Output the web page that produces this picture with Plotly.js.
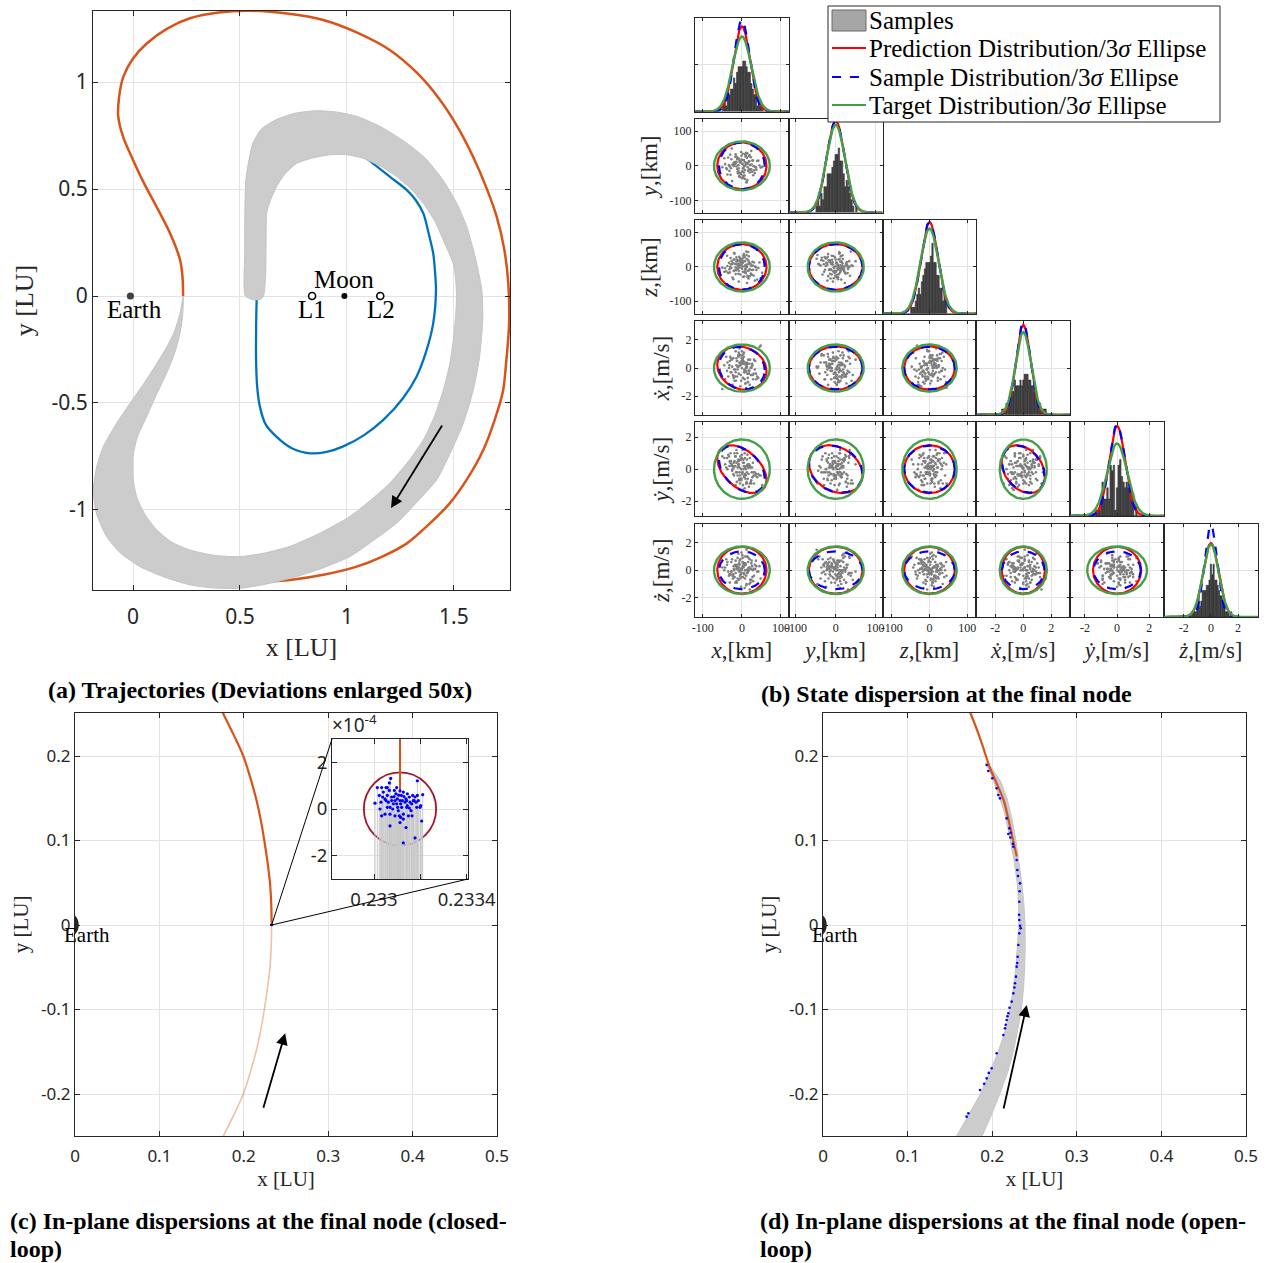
<!DOCTYPE html>
<html><head><meta charset="utf-8">
<script src="https://cdn.plot.ly/plotly-3.0.1.min.js"></script>
<style>html,body{margin:0;padding:0;background:#fff}#chart{width:1270px;height:1263px}</style>
</head><body><div id="chart"></div>
<script>
// ================= DATA =================
// ---- Panel (a): trajectories [LU] ----
const refTrajX = [0.234,0.232,0.22,0.17,0.11,0.05,0.0,-0.045,-0.069,-0.065,-0.045,0.0,0.064,0.16,0.266,0.4,0.547,0.72,0.889,1.05,1.2,1.33,1.435,1.52,1.59,1.65,1.70,1.735,1.754,1.758,1.745,1.73,1.69,1.637,1.565,1.48,1.38,1.28,1.16,1.045,0.89,0.734,0.6,0.45];
const refTrajY = [0.0,0.08,0.168,0.3,0.417,0.53,0.636,0.74,0.838,0.93,1.025,1.11,1.18,1.25,1.298,1.325,1.333,1.32,1.29,1.23,1.15,1.04,0.916,0.785,0.65,0.51,0.37,0.22,0.06,-0.128,-0.3,-0.44,-0.58,-0.72,-0.85,-0.969,-1.07,-1.156,-1.22,-1.265,-1.303,-1.327,-1.336,-1.338];
const initTrajX = [0.575,0.576,0.578,0.576,0.575,0.58,0.593,0.62,0.67,0.74,0.827,0.9,0.983,1.08,1.17,1.26,1.325,1.37,1.403,1.416,1.411,1.403,1.38,1.357,1.32,1.28,1.2,1.092];
const initTrajY = [0.45,0.2,0.0,-0.1,-0.283,-0.42,-0.517,-0.6,-0.657,-0.71,-0.735,-0.73,-0.703,-0.65,-0.579,-0.48,-0.377,-0.26,-0.128,0.028,0.12,0.2,0.3,0.386,0.45,0.495,0.558,0.643];
// Monte-Carlo bundle envelope (outer edge, then inner edge back)
const bundleOuterX = [0.57,0.525,0.522,0.523,0.528,0.56,0.60,0.67,0.76,0.858,0.95,1.045,1.16,1.28,1.37,1.45,1.52,1.56,1.60,1.63,1.635,1.62,1.59,1.544,1.48,1.419,1.33,1.232,1.12,1.014,0.89,0.765,0.63,0.5,0.38,0.266,0.15,0.033,-0.06,-0.123,-0.17,-0.186,-0.17,-0.139,-0.08,-0.014,0.05,0.111,0.16,0.196,0.22,0.232,0.233];
const bundleOuterY = [-0.02,0.0,0.2,0.4,0.55,0.714,0.78,0.825,0.855,0.866,0.86,0.84,0.79,0.714,0.64,0.54,0.42,0.324,0.18,0.03,-0.1,-0.283,-0.44,-0.595,-0.74,-0.86,-0.96,-1.062,-1.145,-1.218,-1.27,-1.311,-1.345,-1.366,-1.365,-1.35,-1.315,-1.265,-1.2,-1.125,-1.02,-0.907,-0.8,-0.704,-0.6,-0.501,-0.41,-0.315,-0.235,-0.159,-0.08,-0.01,0.0];
const bundleInnerX = [0.235,0.232,0.22,0.195,0.157,0.11,0.064,0.02,0.0,0.0,0.017,0.055,0.111,0.18,0.266,0.38,0.5,0.62,0.734,0.87,1.014,1.11,1.2,1.285,1.357,1.41,1.45,1.48,1.497,1.508,1.512,1.5,1.45,1.41,1.357,1.30,1.232,1.16,1.076,1.0,0.92,0.84,0.765,0.71,0.67,0.64,0.625,0.622,0.62,0.61,0.59];
const bundleInnerY = [0.0,-0.09,-0.174,-0.265,-0.361,-0.46,-0.563,-0.66,-0.75,-0.85,-0.938,-1.02,-1.093,-1.15,-1.187,-1.212,-1.218,-1.2,-1.17,-1.11,-1.03,-0.955,-0.875,-0.775,-0.673,-0.56,-0.44,-0.32,-0.206,-0.09,0.012,0.14,0.262,0.35,0.433,0.50,0.558,0.605,0.643,0.66,0.66,0.645,0.62,0.57,0.51,0.44,0.388,0.25,0.1,0.0,-0.02];
const earthX = -0.01215, moonX = 0.98785, L1X = 0.83692, L2X = 1.15568, earthR = 0.01659;
const arrowA = {tailX:1.449, tailY:-0.598, headX:1.206, headY:-0.991};

// ---- Panel (b): final-node samples (x,y,z in km; vx,vy,vz in m/s) ----
const sampX = [3,-12,25,-7,18,-31,9,0,-22,14,-5,37,-16,6,-2,28,-40,11,-9,21,
 -27,4,15,-14,33,-1,-19,8,45,-35,12,-6,19,-24,2,-11,30,-3,7,-45,
 16,-17,24,-8,1,-29,10,52,-13,5,-21,27,-4,13,-38,20,-10,3,-26,36,
 -15,8,-1,17,-33,23,-7,11,-50,14,2,-20,29,-9,6,-12,39,-25,0,18,
 -4,9,-30,22,-16,4,42,-6,13,-23,26,-2,-14,7,-37,15,31,-11,1,-19,
 10,-28,20,-5,34,-8,12,-43,5,24,-17,3,-9,16,-32,8,48,-3,19,-21];
const sampY = [-8,21,4,-30,13,-2,27,-17,6,-41,10,-11,33,0,-24,16,-6,38,-14,2,
 19,-35,-4,11,-21,29,7,-12,1,24,-46,14,-9,3,35,-18,-1,12,-28,22,
 -15,5,43,-7,17,-26,9,-3,26,-19,0,15,-33,8,-10,31,-22,4,50,-5,
 12,-38,18,-13,2,25,-20,6,-4,36,-16,10,-27,20,-1,-9,14,-44,7,28,
 -23,1,32,-11,8,-6,15,-31,23,3,-17,40,-2,11,-25,6,-13,19,-36,9,
 30,-7,-19,13,-3,21,-48,5,17,-10,26,-29,2,9,-15,34,-5,-21,14,0];
const sampZ = [14,-5,-23,8,31,-16,2,19,-36,7,24,-9,-1,-28,12,4,-13,45,-20,10,
 -3,27,-11,16,-40,6,22,-7,13,-18,35,-2,9,-31,1,18,-25,5,29,-14,
 20,-8,3,-43,11,26,-4,-17,7,38,-12,15,-22,0,33,-6,10,-29,17,-1,
 -10,4,23,-34,12,-19,30,6,-2,-26,15,41,-8,2,-15,21,-37,9,-5,14,
 25,-13,0,8,-21,32,-3,18,-47,11,-9,5,28,-16,3,-30,13,-6,20,39,
 -18,7,-27,16,1,-11,24,-4,34,-22,9,-14,2,44,-7,17,-33,6,-10,22];
const sampVX = [0.3,-0.6,0.1,0.9,-0.2,0.5,-1.1,0.0,0.7,-0.4,0.2,-0.8,1.2,-0.1,0.4,-0.5,0.8,-1.4,0.1,0.6,
 -0.3,1.0,-0.7,0.2,-0.1,0.5,-0.9,0.3,1.5,-0.6,0.0,0.4,-0.2,-1.2,0.7,0.1,-0.4,0.9,-0.8,0.2,
 0.6,-0.1,-0.5,1.1,0.3,-0.3,0.0,-1.0,0.5,0.8,-0.6,0.2,-1.3,0.4,-0.2,1.3,0.1,-0.7,0.6,-0.4,
 -0.9,0.4,0.7,-0.2,0.0,-0.5,1.0,0.2,-1.5,0.3,0.6,-0.1,-0.8,0.9,-0.3,0.5,-0.6,0.1,1.2,-0.4,
 0.2,-1.1,0.8,0.0,-0.3,0.5,-0.7,1.4,0.1,-0.5,0.3,-0.9,0.7,-0.2,0.4,-1.0,0.6,-0.1,0.9,-0.6,
 -0.2,0.7,-1.2,0.3,0.5,-0.4,0.1,-0.8,1.1,0.0,-0.6,0.4,0.8,-1.0,0.2,-0.3,1.6,-0.5,0.3,-0.7];
const sampVY = [0.4,-0.2,-0.2,-0.6,0.3,0.5,-0.3,0.9,-0.3,0.2,-0.9,-0.3,0.8,-0.5,0.0,0.4,0.1,-0.9,0.3,0.2,
 0.2,0.6,-0.6,1.2,-0.2,-0.6,0.5,-0.3,-0.4,0.9,-0.9,0.1,0.2,0.0,1.2,-0.4,-0.4,0.6,-1.2,0.7,
 0.1,0.2,-0.9,0.3,-0.3,1.0,0.0,-1.0,-0.8,0.4,0.4,-0.5,0.8,-0.2,0.7,-0.9,0.5,-1.3,0.3,-0.3,
 -0.2,0.1,0.6,-0.3,0.8,-0.8,-0.7,0.2,0.8,0.9,-0.2,-0.4,-0.2,0.6,-0.4,1.0,-0.5,-0.1,0.7,-1.1,
 0.6,-0.6,0.4,0.1,-1.0,0.0,-0.3,-0.2,0.6,0.2,0.1,-0.7,0.4,1.0,0.0,0.3,-0.9,0.1,-0.2,1.0,
 -0.4,0.5,0.7,-0.4,-0.4,0.5,-0.8,0.3,0.2,-0.7,0.8,-1.0,0.2,0.3,0.2,0.7,-0.4,-0.6,0.1,0.1];
const sampVZ = [-0.5,0.2,0.7,-0.1,0.0,-0.9,0.4,0.1,-0.3,1.0,-0.6,0.3,-0.2,0.5,-1.2,0.0,0.8,-0.4,0.2,-0.7,
 0.6,-0.2,0.1,-0.8,0.4,1.3,-0.5,0.0,0.3,-0.1,-1.0,0.7,0.2,-0.4,0.9,-0.6,0.1,-0.3,0.5,0.0,
 -0.1,0.4,-0.7,0.2,1.1,-0.3,0.0,0.6,-0.9,0.3,0.1,-0.5,0.8,-0.2,0.4,-1.4,0.2,0.5,-0.1,0.7,
 0.3,-0.6,0.0,0.9,-0.4,0.1,0.5,-1.1,0.2,-0.2,0.6,0.0,-0.8,1.2,-0.3,0.4,-0.1,0.8,-0.5,0.2,
 0.0,0.5,-0.3,-0.9,0.7,0.2,-0.1,0.4,1.0,-0.6,0.3,-0.2,0.1,-1.3,0.6,0.0,-0.4,0.9,0.2,-0.5,
 0.4,-0.1,0.8,-0.4,0.1,-0.7,1.5,0.2,-0.2,0.5,-0.9,0.3,0.0,0.6,-0.3,1.0,-0.6,0.1,-1.0,0.3];
// 1-sigma of the three distributions, same order as the states
const predSigma = [21.0, 22.5, 22.3, 0.515, 0.50, 0.57];
const sampSigma = [19.5, 22.5, 22.3, 0.505, 0.49, 0.46];
const targSigma = [23.8, 23.5, 24.0, 0.56, 0.62, 0.58];
// correlations (state i, state j)
const corrI = [0, 1, 3, 0];
const corrJ = [4, 4, 4, 3];
const corrPred = [-0.45, -0.25, -0.30, -0.15];
const corrSamp = [-0.40, -0.20, -0.30, -0.10];
const stateLabels = ['<i>x</i>,[km]','<i>y</i>,[km]','<i>z</i>,[km]','<i>ẋ</i>,[m/s]','<i>ẏ</i>,[m/s]','<i>ż</i>,[m/s]'];
const stateIsKm = [true,true,true,false,false,false];
const colHalfRange = [120, 118, 124, 3.35, 2.92, 3.45];
const rowHalfRange = [135, 135, 137, 3.33, 2.93, 3.41];
const binWidth = [4, 4, 4, 0.1, 0.1, 0.1];
const kmTicks = [-100, 0, 100], msTicks = [-2, 0, 2];
const legendNames = ['Samples','Prediction Distribution/3<i>σ</i> Ellipse','Sample Distribution/3<i>σ</i> Ellipse','Target Distribution/3<i>σ</i> Ellipse'];

// ---- Panel (c): closed-loop final node ----
const cRefUpX = [0.171,0.1757,0.188,0.1994,0.2075,0.2145,0.2200,0.2243,0.2280,0.2310,0.2325,0.2330];
const cRefUpY = [0.26,0.25,0.225,0.2,0.175,0.15,0.125,0.1,0.075,0.05,0.025,0.0];
const cRefLowX = [0.2330,0.2325,0.2310,0.2280,0.2243,0.2200,0.2145,0.2075,0.1994,0.188,0.1757,0.171];
const cRefLowY = [0.0,-0.025,-0.05,-0.075,-0.1,-0.125,-0.15,-0.175,-0.2,-0.225,-0.25,-0.26];
const arrowC = {tailX:0.2227, tailY:-0.218, headX:0.249, headY:-0.128};
// zoomed final-node samples (x [LU], y [LU])
const cNodeX = [0.2330144,0.2330331,0.2330518,0.2330720,0.2330662,0.2330979,0.2331122,0.2331266,0.2331871,0.2332101,
 0.2330043,0.2330259,0.2330475,0.2330576,0.2330763,0.2330878,0.2331007,0.2331122,0.2331194,0.2331295,
 0.2331410,0.2331525,0.2331626,0.2331727,0.2331842,0.2331986,0.2332058,0.2330230,0.2330374,0.2330619,
 0.2330691,0.2330835,0.2331050,0.2331151,0.2331266,0.2331381,0.2331482,0.2331597,0.2331698,0.2331770,
 0.2330403,0.2330518,0.2330576,0.2330763,0.2330863,0.2330950,0.2331065,0.2331180,0.2331338,0.2331439,
 0.2331554,0.2331669,0.2331813,0.2331914,0.2332015,0.2330691,0.2330907,0.2331094,0.2331266,0.2331410,
 0.2330475,0.2330331,0.2330691,0.2331122,0.2331770,0.2331266,0.2330979,0.2330806,0.2330662,0.2330907,
 0.2331151,0.2331381,0.2331525,0.2331640,0.2331871,0.2330302,0.2330576,0.2331022,0.2331223,0.2331439];
const cNodeY = [0.91e-4,0.91e-4,0.91e-4,1.30e-4,1.11e-4,0.91e-4,0.77e-4,0.72e-4,1.20e-4,0.61e-4,
 0.25e-4,0,0.43e-4,0.58e-4,0.51e-4,0.79e-4,0.43e-4,0.36e-4,0.07e-4,0.53e-4,
 0.36e-4,0.51e-4,0.22e-4,0.36e-4,0.07e-4,0.07e-4,-0.51e-4,0.58e-4,0.51e-4,0.29e-4,
 0.07e-4,0.22e-4,-0.07e-4,-0.36e-4,-0.22e-4,-0.79e-4,-0.29e-4,-0.07e-4,0.36e-4,0.51e-4,
 0.72e-4,0.36e-4,0.07e-4,0.36e-4,0.53e-4,0.65e-4,0.59e-4,0.58e-4,0.29e-4,0.14e-4,
 0.29e-4,0.58e-4,0.29e-4,0.36e-4,0.14e-4,-0.22e-4,-0.29e-4,-0.29e-4,-0.43e-4,0.07e-4,
 -0.22e-4,-0.29e-4,-0.72e-4,-0.58e-4,-1.23e-4,-1.44e-4,0.22e-4,0,0.79e-4,0.36e-4,
 0.22e-4,0.43e-4,0.04e-4,-0.29e-4,0.58e-4,0.29e-4,0.91e-4,0.07e-4,0.36e-4,0.65e-4];
const cRefEndX = [0.2331122, 0.2331122];
const cRefEndY = [4e-4, 0.77e-4];
const cTargetCenter = [0.2331122, 0.0], cTargetRadius = 1.56e-4;

// ---- Panel (d): open-loop final node ----
const dRefX = [0.170,0.1746,0.186,0.197,0.2055,0.2134,0.2185,0.223,0.229];
const dRefY = [0.26,0.25,0.22,0.187,0.167,0.148,0.128,0.108,0.081];
const dBandLeftX = [0.192,0.2,0.207,0.214,0.2185,0.2215,0.226,0.2295,0.2312,0.2315,0.230,0.228,0.225,0.221,0.2155,0.207,0.197,0.186,0.172,0.158,0.152];
const dBandLeftY = [0.192,0.175,0.155,0.135,0.115,0.1,0.075,0.05,0.025,0,-0.025,-0.05,-0.075,-0.1,-0.125,-0.15,-0.175,-0.2,-0.225,-0.25,-0.26];
const dBandRightX = [0.184,0.188,0.199,0.209,0.218,0.225,0.230,0.2345,0.237,0.2385,0.239,0.2388,0.2375,0.235,0.2315,0.228,0.2235,0.2175,0.210,0.200,0.194];
const dBandRightY = [-0.26,-0.25,-0.225,-0.2,-0.175,-0.15,-0.125,-0.1,-0.075,-0.05,-0.025,0,0.025,0.05,0.075,0.1,0.125,0.15,0.17,0.185,0.192];
const dNodeX = [0.1935,0.1954,0.2001,0.2053,0.2072,0.2092,0.2171,0.2202,0.2218,0.2190,0.2250,0.2289,0.2297,0.2329,0.2320,0.2320,0.2337,0.2320,0.2309,0.2301,
 0.2289,0.2281,0.2270,0.2250,0.2230,0.2191,0.2171,0.2151,0.2132,0.2053,0.1994,0.1935,0.1856,0.1718,0.1698,0.2215,0.2245,0.2305,0.2325,0.2330,
 0.2318,0.2296,0.2262,0.2180,0.2160,0.2205,0.1960,0.1905];
const dNodeY = [0.1893,0.1822,0.1736,0.1618,0.1538,0.1499,0.1262,0.1144,0.1092,0.1077,0.0927,0.0769,0.0651,0.0493,0.0276,0.0059,-0.0039,-0.0099,-0.0237,-0.0375,
 -0.0493,-0.0611,-0.0690,-0.0809,-0.0907,-0.1045,-0.1124,-0.1223,-0.1302,-0.1518,-0.1696,-0.1815,-0.1953,-0.2229,-0.2268,0.1035,0.0960,0.058,0.040,-0.001,
 0.012,-0.045,-0.074,-0.108,-0.118,-0.098,-0.175,-0.188];
const arrowD = {tailX:0.2131, tailY:-0.219, headX:0.2408, headY:-0.0947};

// ================= FIGURE =================
const W = 1270, H = 1263;
const fx = px => px / W;
const fy = py => 1 - py / H;
const SERIF = 'Liberation Serif, Times New Roman, serif';
const SANS = 'Noto Sans, Open Sans, DejaVu Sans, sans-serif';
const TXT = '#262626', GRID = '#e3e3e3';
const ORANGE = '#d95319', TRAJBLUE = '#0072bd', BUNDLE = '#cccccc';
const RED = '#ff0000', BLUE = '#0000ff', GREEN = '#43a047';

const layout = {
  width: W, height: H, margin: {l:0, r:0, t:0, b:0},
  paper_bgcolor: '#fff', plot_bgcolor: '#fff', showlegend: false,
  shapes: [], annotations: []
};
const data = [];
let nAx = 0;
function baseAxis() {
  return {showline: true, linecolor: TXT, linewidth: 1, mirror: 'ticks', ticks: 'inside', ticklen: 5,
    tickwidth: 1, tickcolor: TXT, showgrid: true, gridcolor: GRID, gridwidth: 1, zeroline: false,
    fixedrange: true, automargin: false, tickfont: {family: SANS, size: 17, color: TXT}};
}
function newAxes(xPx, yPx, xo, yo) {
  nAx++;
  const s = nAx === 1 ? '' : String(nAx);
  layout['xaxis' + s] = Object.assign(baseAxis(), {domain: [fx(xPx[0]), fx(xPx[1])], anchor: 'y' + s}, xo);
  layout['yaxis' + s] = Object.assign(baseAxis(), {domain: [fy(yPx[1]), fy(yPx[0])], anchor: 'x' + s}, yo);
  return {xaxis: 'x' + s, yaxis: 'y' + s, xk: 'xaxis' + s, yk: 'yaxis' + s};
}
function axTitle(text, size, standoff) { return {text: text, font: {family: SERIF, size: size, color: TXT}, standoff: standoff}; }
function arrow(ax, a) {
  layout.annotations.push({xref: ax.xaxis, yref: ax.yaxis, axref: ax.xaxis, ayref: ax.yaxis,
    x: a.headX, y: a.headY, ax: a.tailX, ay: a.tailY, text: '', showarrow: true,
    arrowhead: 2, arrowsize: 1.3, arrowwidth: 1.8, arrowcolor: '#000'});
}
function earthShape(ax, color) {
  layout.shapes.push({type: 'circle', xref: ax.xaxis, yref: ax.yaxis, layer: 'above',
    x0: earthX - earthR, x1: earthX + earthR, y0: -earthR, y1: earthR,
    fillcolor: color, line: {width: 0}});
}
function label(ax, x, y, text, size) {
  layout.annotations.push({xref: ax.xaxis, yref: ax.yaxis, x: x, y: y, text: text, showarrow: false,
    font: {family: SERIF, size: size, color: '#000'}, xanchor: 'center', yanchor: 'middle'});
}

// ---------- (a) ----------
const A = newAxes([93, 510], [11, 590],
  {range: [-0.187, 1.762], tickvals: [0, 0.5, 1, 1.5], ticktext: ['0', '0.5', '1', '1.5'], ticklabelstandoff: 8,
   tickfont: {family: SANS, size: 21, color: TXT}, title: axTitle('x [LU]', 26, 8)},
  {range: [-1.374, 1.332], tickvals: [-1, -0.5, 0, 0.5, 1], ticktext: ['-1', '-0.5', '0', '0.5', '1'],
   tickfont: {family: SANS, size: 21, color: TXT}, title: axTitle('y [LU]', 26, 10)});
data.push({x: refTrajX, y: refTrajY, mode: 'lines', line: {color: ORANGE, width: 2.5, shape: 'spline', smoothing: 0.8}, xaxis: A.xaxis, yaxis: A.yaxis, hoverinfo: 'skip'});
data.push({x: initTrajX, y: initTrajY, mode: 'lines', line: {color: TRAJBLUE, width: 2.3, shape: 'spline', smoothing: 0.8}, xaxis: A.xaxis, yaxis: A.yaxis, hoverinfo: 'skip'});
data.push({x: bundleOuterX.concat(bundleInnerX), y: bundleOuterY.concat(bundleInnerY), mode: 'lines', fill: 'toself',
  fillcolor: BUNDLE, line: {color: '#c4c4c4', width: 1, shape: 'spline', smoothing: 0.6}, xaxis: A.xaxis, yaxis: A.yaxis, hoverinfo: 'skip'});
data.push({x: [moonX], y: [0], mode: 'markers', marker: {color: '#000', size: 6}, xaxis: A.xaxis, yaxis: A.yaxis, hoverinfo: 'skip'});
data.push({x: [L1X, L2X], y: [0, 0], mode: 'markers', marker: {color: '#fff', size: 7, line: {color: '#000', width: 1.6}}, xaxis: A.xaxis, yaxis: A.yaxis, hoverinfo: 'skip'});
earthShape(A, '#404040');
label(A, earthX + 0.02, -0.062, 'Earth', 25);
label(A, moonX, 0.078, 'Moon', 25);
label(A, L1X, -0.062, 'L1', 25);
label(A, L2X + 0.004, -0.062, 'L2', 25);
arrow(A, arrowA);

// ---------- (b) corner plot ----------
const samples = [sampX, sampY, sampZ, sampVX, sampVY, sampVZ];
const N = sampX.length;
const histScale = 0.6;
const cornerFont = {family: SERIF, size: 12, color: TXT};
const cellX0 = 695, cellW = 93.8, cellY0 = 18, cellStep = 101.1, cellH = 93.5;
function corr(list, i, j) {
  for (let k = 0; k < corrI.length; k++) {
    if ((corrI[k] === i && corrJ[k] === j) || (corrI[k] === j && corrJ[k] === i)) return list[k];
  }
  return 0;
}
function ellipse3(sx, sy, rho) {
  const xs = [], ys = [];
  for (let k = 0; k <= 120; k++) {
    const t = 2 * Math.PI * k / 120, u = Math.cos(t), v = Math.sin(t);
    xs.push(3 * sx * u);
    ys.push(3 * sy * (rho * u + Math.sqrt(1 - rho * rho) * v));
  }
  return {xs, ys};
}
function gauss(sigma, half) {
  const xs = [], ys = [];
  for (let k = 0; k <= 200; k++) {
    const x = -half + 2 * half * k / 200;
    xs.push(x); ys.push(Math.exp(-0.5 * (x / sigma) * (x / sigma)) / (sigma * Math.sqrt(2 * Math.PI)));
  }
  return {xs, ys};
}
const tickSet = i => stateIsKm[i] ? {tickvals: kmTicks, ticktext: kmTicks.map(String)} : {tickvals: msTicks, ticktext: msTicks.map(String)};
for (let r = 0; r < 6; r++) {
  for (let c = 0; c <= r; c++) {
    const xPx = [cellX0 + c * cellW, cellX0 + (c + 1) * cellW];
    const yPx = [cellY0 + r * cellStep, cellY0 + r * cellStep + cellH];
    const xo = Object.assign({range: [-colHalfRange[c], colHalfRange[c]], showticklabels: r === 5, tickfont: cornerFont, ticklen: 3}, tickSet(c));
    if (r === 5) xo.title = axTitle(stateLabels[c], 23, 7);
    let yo;
    if (r === c) {
      const ymax = 1.02 / (Math.min(predSigma[c], sampSigma[c], targSigma[c]) * Math.sqrt(2 * Math.PI));
      yo = {range: [0, ymax], tickvals: [ymax / 2], showticklabels: false, ticklen: 3};
    } else {
      yo = Object.assign({range: [-rowHalfRange[r], rowHalfRange[r]], showticklabels: c === 0, tickfont: cornerFont, ticklen: 3}, tickSet(r));
      if (c === 0) yo.title = axTitle(stateLabels[r], 23, 5);
    }
    const ax = newAxes(xPx, yPx, xo, yo);
    if (r === c) {
      const bw = binWidth[c], half = colHalfRange[c];
      const nHalf = Math.ceil(half / bw);
      const centers = [], counts = [];
      for (let k = -nHalf; k <= nHalf; k++) { centers.push(k * bw); counts.push(0); }
      samples[c].forEach(v => { const k = Math.round(v / bw) + nHalf; if (k >= 0 && k < counts.length) counts[k]++; });
      data.push({type: 'bar', x: centers, y: counts.map(n => n / (N * bw) * histScale), width: bw * 0.92,
        marker: {color: '#4f4f4f', line: {color: '#1c1c1c', width: 0.5}}, xaxis: ax.xaxis, yaxis: ax.yaxis, hoverinfo: 'skip'});
      const gp = gauss(predSigma[c], half), gs = gauss(sampSigma[c], half), gt = gauss(targSigma[c], half);
      data.push({x: gp.xs, y: gp.ys, mode: 'lines', line: {color: RED, width: 2.2}, xaxis: ax.xaxis, yaxis: ax.yaxis, hoverinfo: 'skip'});
      data.push({x: gs.xs, y: gs.ys, mode: 'lines', line: {color: BLUE, width: 2.2, dash: 'dash'}, xaxis: ax.xaxis, yaxis: ax.yaxis, hoverinfo: 'skip'});
      data.push({x: gt.xs, y: gt.ys, mode: 'lines', line: {color: GREEN, width: 2.4}, xaxis: ax.xaxis, yaxis: ax.yaxis, hoverinfo: 'skip'});
    } else {
      data.push({x: samples[c], y: samples[r], mode: 'markers', marker: {size: 2.6, color: '#7f7f7f'},
        xaxis: ax.xaxis, yaxis: ax.yaxis, hoverinfo: 'skip'});
      const ep = ellipse3(predSigma[c], predSigma[r], corr(corrPred, c, r));
      const es = ellipse3(sampSigma[c], sampSigma[r], corr(corrSamp, c, r));
      const et = ellipse3(targSigma[c], targSigma[r], 0);
      data.push({x: ep.xs, y: ep.ys, mode: 'lines', line: {color: RED, width: 2.2}, xaxis: ax.xaxis, yaxis: ax.yaxis, hoverinfo: 'skip'});
      data.push({x: es.xs, y: es.ys, mode: 'lines', line: {color: BLUE, width: 2.2, dash: 'dash'}, xaxis: ax.xaxis, yaxis: ax.yaxis, hoverinfo: 'skip'});
      data.push({x: et.xs, y: et.ys, mode: 'lines', line: {color: GREEN, width: 2.4}, xaxis: ax.xaxis, yaxis: ax.yaxis, hoverinfo: 'skip'});
    }
  }
}
// legend box of (b)
const legendRowsPx = [20, 48, 77, 105];
layout.shapes.push({type: 'rect', xref: 'paper', yref: 'paper', x0: fx(828), x1: fx(1220), y0: fy(122), y1: fy(6),
  fillcolor: '#fff', line: {color: TXT, width: 1}, layer: 'above'});
layout.shapes.push({type: 'rect', xref: 'paper', yref: 'paper', x0: fx(832), x1: fx(866), y0: fy(31), y1: fy(10),
  fillcolor: '#a6a6a6', line: {color: '#6b6b6b', width: 1}, layer: 'above'});
[[RED, 'solid'], [BLUE, 'dash'], [GREEN, 'solid']].forEach((st, k) => {
  layout.shapes.push({type: 'line', xref: 'paper', yref: 'paper', x0: fx(832), x1: fx(866),
    y0: fy(legendRowsPx[k + 1]), y1: fy(legendRowsPx[k + 1]), line: {color: st[0], width: 2.2, dash: st[1]}, layer: 'above'});
});
legendNames.forEach((nm, k) => {
  layout.annotations.push({xref: 'paper', yref: 'paper', x: fx(867), y: fy(legendRowsPx[k]), xanchor: 'left', yanchor: 'middle',
    text: nm, showarrow: false, font: {family: SERIF, size: 25, color: '#000'}});
});

// ---------- (c) ----------
const cTicksX = {range: [0, 0.5], tickvals: [0, 0.1, 0.2, 0.3, 0.4, 0.5], ticktext: ['0', '0.1', '0.2', '0.3', '0.4', '0.5'], ticklabelstandoff: 5};
const cTicksY = {range: [-0.2497, 0.2509], tickvals: [-0.2, -0.1, 0, 0.1, 0.2], ticktext: ['-0.2', '-0.1', '0', '0.1', '0.2']};
const C = newAxes([75, 497], [713, 1136],
  Object.assign({title: axTitle('x [LU]', 21, 4)}, cTicksX),
  Object.assign({title: axTitle('y [LU]', 21, 6)}, cTicksY));
data.push({x: cRefLowX, y: cRefLowY, mode: 'lines', line: {color: 'rgba(217,83,25,0.38)', width: 1.6, shape: 'spline'}, xaxis: C.xaxis, yaxis: C.yaxis, hoverinfo: 'skip'});
data.push({x: cRefUpX, y: cRefUpY, mode: 'lines', line: {color: ORANGE, width: 2.2, shape: 'spline'}, xaxis: C.xaxis, yaxis: C.yaxis, hoverinfo: 'skip'});
data.push({x: cNodeX, y: cNodeY, mode: 'markers', marker: {color: BLUE, size: 2}, xaxis: C.xaxis, yaxis: C.yaxis, hoverinfo: 'skip'});
earthShape(C, '#262626');
label(C, 0.014, -0.012, 'Earth', 21);
arrow(C, arrowC);

// ---------- (d) ----------
const D = newAxes([823, 1246], [713, 1136],
  Object.assign({title: axTitle('x [LU]', 21, 4)}, cTicksX),
  Object.assign({title: axTitle('y [LU]', 21, 6)}, cTicksY));
data.push({x: dBandLeftX.concat(dBandRightX), y: dBandLeftY.concat(dBandRightY), mode: 'lines', fill: 'toself',
  fillcolor: BUNDLE, line: {color: '#c6c6c6', width: 1}, xaxis: D.xaxis, yaxis: D.yaxis, hoverinfo: 'skip'});
data.push({x: dRefX, y: dRefY, mode: 'lines', line: {color: ORANGE, width: 2.2, shape: 'spline'}, xaxis: D.xaxis, yaxis: D.yaxis, hoverinfo: 'skip'});
data.push({x: dNodeX, y: dNodeY, mode: 'markers', marker: {color: BLUE, size: 2.6}, xaxis: D.xaxis, yaxis: D.yaxis, hoverinfo: 'skip'});
earthShape(D, '#262626');
label(D, 0.014, -0.012, 'Earth', 21);
arrow(D, arrowD);

// ---------- inset of (c) ----------
const insetFont = {family: SANS, size: 18.5, color: TXT};
const I = newAxes([332, 468], [739, 879],
  {range: [0.2328188, 0.2334056], tickvals: [0.233, 0.2332, 0.2334], ticktext: ['0.233', '', '0.2334'], tickfont: insetFont, ticklabelstandoff: 4},
  {range: [-2.98e-4, 2.98e-4], tickvals: [-2e-4, 0, 2e-4], ticktext: ['-2', '0', '2'], tickfont: insetFont});
const gx = [], gy = [];
cNodeX.forEach((x, k) => { gx.push(x, x, null); gy.push(-4e-4, cNodeY[k], null); });
data.push({x: gx, y: gy, mode: 'lines', line: {color: '#c8c8c8', width: 1}, xaxis: I.xaxis, yaxis: I.yaxis, hoverinfo: 'skip'});
data.push({x: cRefEndX, y: cRefEndY, mode: 'lines', line: {color: ORANGE, width: 2}, xaxis: I.xaxis, yaxis: I.yaxis, hoverinfo: 'skip'});
data.push({x: cNodeX, y: cNodeY, mode: 'markers', marker: {color: BLUE, size: 3.2}, xaxis: I.xaxis, yaxis: I.yaxis, hoverinfo: 'skip'});
layout.shapes.push({type: 'circle', xref: I.xaxis, yref: I.yaxis, layer: 'between',
  x0: cTargetCenter[0] - cTargetRadius, x1: cTargetCenter[0] + cTargetRadius,
  y0: cTargetCenter[1] - cTargetRadius, y1: cTargetCenter[1] + cTargetRadius,
  line: {color: '#a2142f', width: 1.8}});
layout.annotations.push({xref: 'paper', yref: 'paper', x: fx(330), y: fy(724), xanchor: 'left', yanchor: 'middle',
  text: '×10<sup>-4</sup>', showarrow: false, font: {family: SANS, size: 19, color: TXT}});
// connector lines from the final node in (c) to the inset frame
function toPaper(ax, x, y) {
  const xa = layout[ax.xk], ya = layout[ax.yk];
  return [xa.domain[0] + (x - xa.range[0]) / (xa.range[1] - xa.range[0]) * (xa.domain[1] - xa.domain[0]),
          ya.domain[0] + (y - ya.range[0]) / (ya.range[1] - ya.range[0]) * (ya.domain[1] - ya.domain[0])];
}
const nodeP = toPaper(C, 0.233, 0);
const ixd = layout[I.xk].domain, iyd = layout[I.yk].domain;
[[ixd[0], iyd[1]], [ixd[1], iyd[0]]].forEach(p => {
  layout.shapes.push({type: 'line', xref: 'paper', yref: 'paper', x0: nodeP[0], y0: nodeP[1], x1: p[0], y1: p[1], line: {color: '#000', width: 1}});
});

// ---------- captions ----------
const capFont = {family: SERIF, size: 24, color: '#000'};
function caption(xPx, yPx, text, xanchor) {
  layout.annotations.push({xref: 'paper', yref: 'paper', x: fx(xPx), y: fy(yPx), text: '<b>' + text + '</b>', showarrow: false,
    font: capFont, xanchor: xanchor, yanchor: 'middle', align: 'left'});
}
caption(260, 690, '(a) Trajectories (Deviations enlarged 50x)', 'center');
caption(946, 694, '(b) State dispersion at the final node', 'center');
caption(8, 1221, '(c) In-plane dispersions at the final node (closed-', 'left');
caption(8, 1249, 'loop)', 'left');
caption(758, 1221, '(d) In-plane dispersions at the final node (open-', 'left');
caption(758, 1249, 'loop)', 'left');

Plotly.newPlot('chart', data, layout, {displayModeBar: false, staticPlot: true});
</script>
</body></html>
